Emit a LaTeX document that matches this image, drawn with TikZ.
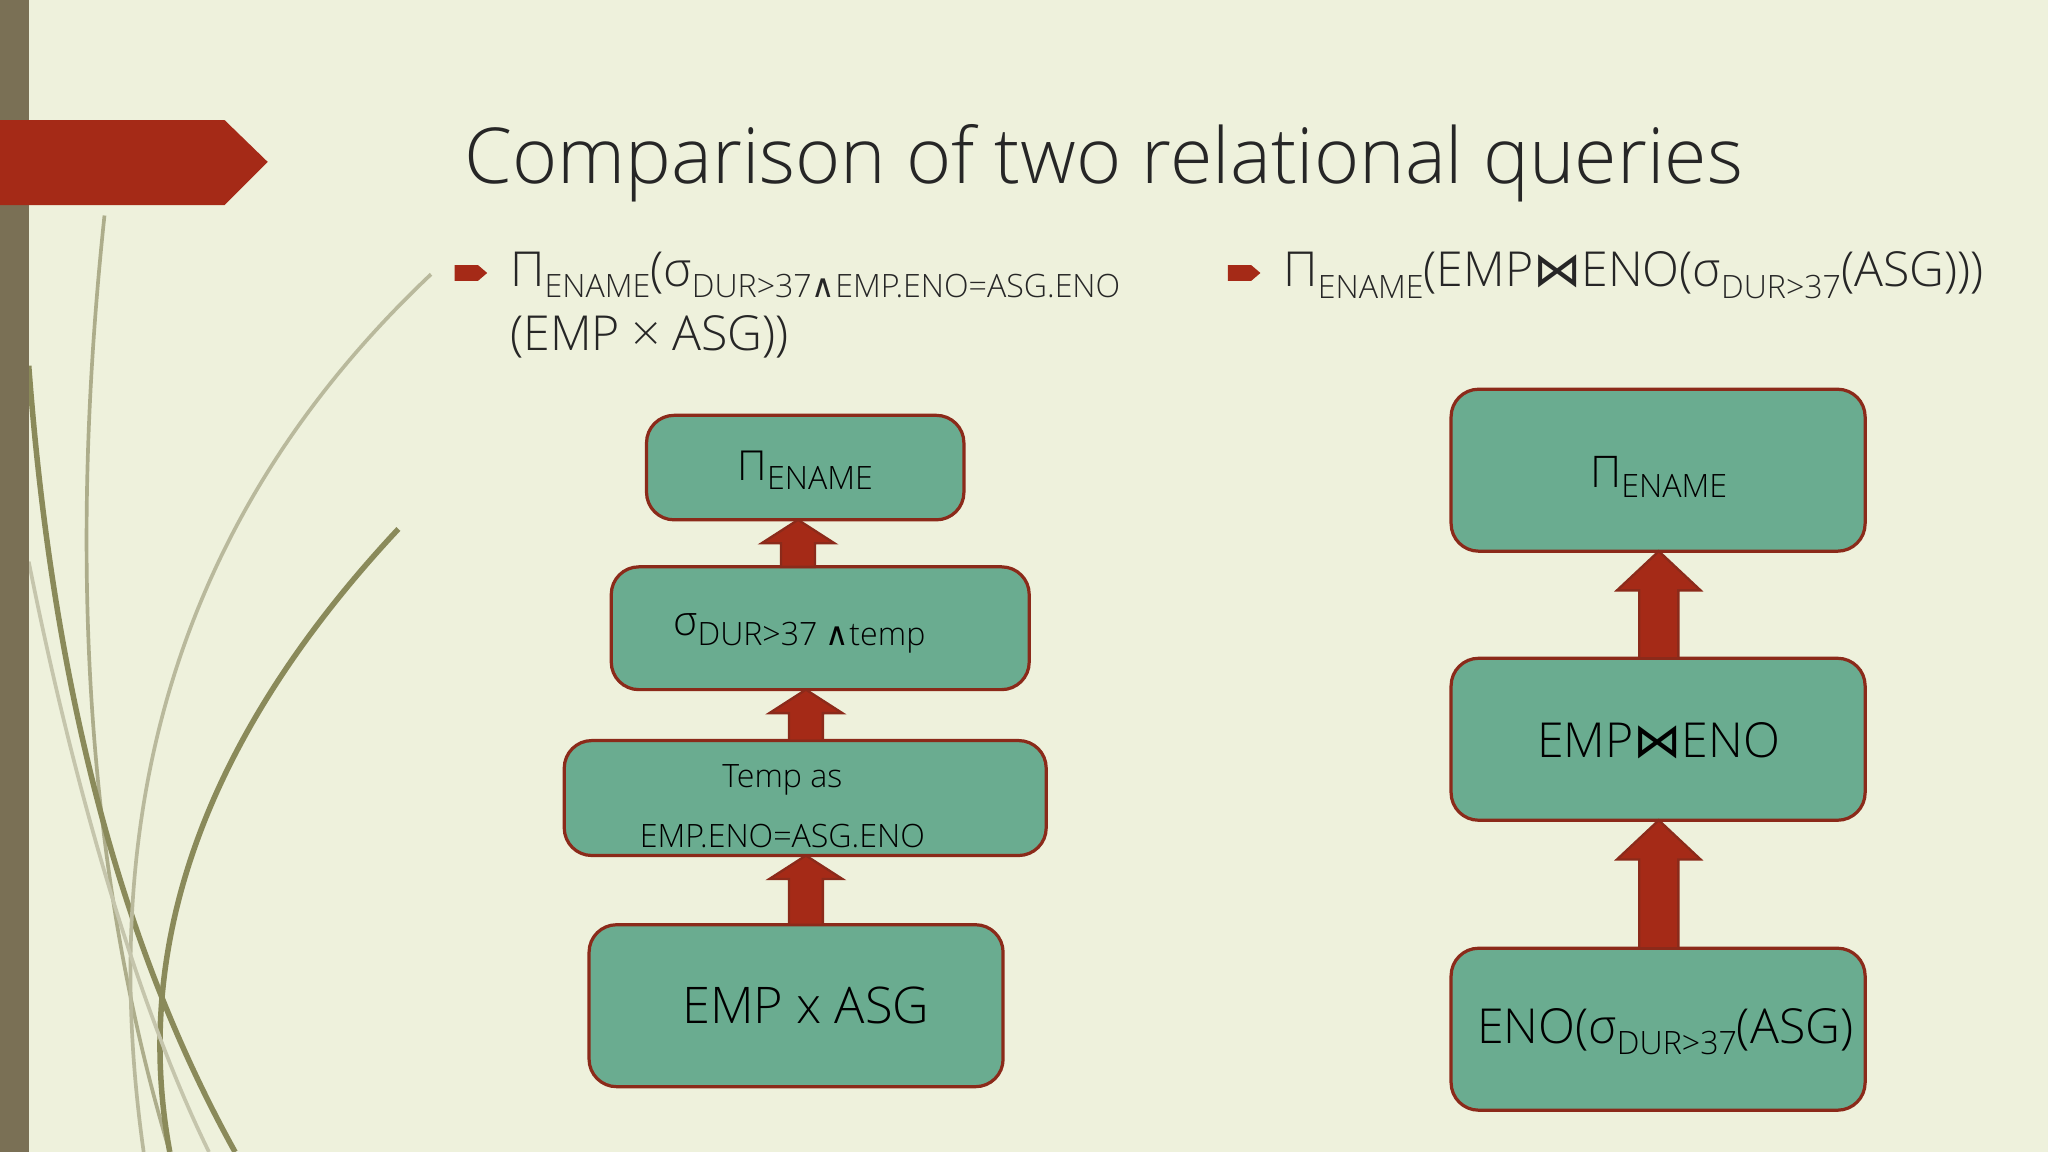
\documentclass[tikz,border=0pt]{standalone}
\usepackage{fontspec}
\setmainfont{Open Sans}[UprightFont=* Light]
\newfontfamily\symf{DejaVu Sans}
\usetikzlibrary{calc}
\definecolor{bg}{HTML}{EEF1DC}
\definecolor{boxc}{HTML}{6AAC90}
\definecolor{edgec}{HTML}{8B2A1A}
\definecolor{redc}{HTML}{A52A17}
\definecolor{barc}{HTML}{7A7055}
\definecolor{leafc}{HTML}{8A8A5A}
\newcommand{\fs}[1]{\fontsize{#1}{#1}\selectfont}
\newcommand{\bt}{{\symf ⋈}}
\newcommand{\wedg}{{\symf ∧}}
\newcommand{\sbs}[1]{\raisebox{-0.45ex}{\fs{7pt}#1}}
\tikzset{x=0.01cm,y=-0.01cm,
 qbox/.style={draw=edgec,line width=0.7pt,fill=boxc,rounded corners=6pt},
 barrow/.style={fill=redc,draw=edgec,line width=0.5pt}}
\begin{document}
\begin{tikzpicture}
\fill[bg] (0,0) rectangle (1568,882);
\useasboundingbox (0,0) rectangle (1568,882);
% decorative leaves
\draw[leafc!70,line width=0.8pt] (80,165) .. controls (55,400) and (60,650) .. (130,882);
\draw[leafc,line width=1.2pt] (22,280) .. controls (40,520) and (90,720) .. (180,882);
\draw[leafc!60,line width=0.8pt] (330,210) .. controls (150,380) and (70,600) .. (110,882);
\draw[leafc,line width=1.2pt] (305,405) .. controls (160,560) and (100,720) .. (130,882);
\draw[leafc!50,line width=0.8pt] (22,430) .. controls (60,620) and (110,780) .. (160,882);
\fill[barc] (0,0) rectangle (22,882);
\fill[redc] (0,92) -- (172,92) -- (205,124) -- (172,157) -- (0,157) -- cycle;
\node[anchor=west,text=black!85] (title) at (343,125) {\fs{16.8pt}Comparison of two relational queries};
% bullets
\fill[redc] (348,203) -- (366,203) -- (373,209) -- (366,215) -- (348,215) -- cycle;
\fill[redc] (940,203) -- (958,203) -- (965,209) -- (958,215) -- (940,215) -- cycle;
\node[anchor=north west,align=left,text=black!85,inner sep=0pt] (b1) at (390,192) {\fs{10.5pt}Π\sbs{ENAME}(σ\sbs{DUR>37\wedg EMP.ENO=ASG.ENO}\\[2pt]\fs{10.5pt}(EMP × ASG))};
\node[anchor=north west,text=black!85,inner sep=0pt] (b2) at (982,192) {\fs{10.5pt}Π\sbs{ENAME}(EMP\bt ENO(σ\sbs{DUR>37}(ASG)))};
% left boxes
\path[qbox] (495,318) rectangle (738,398);
\node (lp) at (616.5,360) {\fs{9pt}Π\sbs{ENAME}};
\path[qbox] (468,434) rectangle (788,528);
\node (ls) at (612,485) {\fs{9pt}σ\sbs{DUR>37 \wedg temp}};
\path[qbox] (432,567) rectangle (801,655);
\node[align=center] (lt) at (599,617) {\fs{7pt}Temp as\\[1pt]\fs{7pt}EMP.ENO=ASG.ENO};
\path[qbox] (451,708) rectangle (768,832);
\node (le) at (617,770) {\fs{11pt}EMP x ASG};
\coordinate (a1t) at (611,398); \coordinate (a1b) at (611,434);
\coordinate (a2t) at (617,528); \coordinate (a2b) at (617,567);
\coordinate (a3t) at (617,655); \coordinate (a3b) at (617,708);
\foreach \t/\b in {a1t/a1b,a2t/a2b,a3t/a3b}{
 \draw[barrow] ($(\b)+(-13,0)$) -- ($(\t)+(-13,18)$) -- ($(\t)+(-28,18)$) -- (\t) -- ($(\t)+(28,18)$) -- ($(\t)+(13,18)$) -- ($(\b)+(13,0)$) -- cycle;}
% right boxes
\path[qbox] (1111,298) rectangle (1428,422);
\node (rp) at (1270,365) {\fs{9.5pt}Π\sbs{ENAME}};
\path[qbox] (1111,504) rectangle (1428,628);
\node (rj) at (1270,567) {\fs{10.5pt}EMP\bt ENO};
\path[qbox] (1111,726) rectangle (1428,850);
\node (re) at (1275,790) {\fs{10.5pt}ENO(σ\sbs{DUR>37}(ASG)};
\coordinate (b1t) at (1270,422); \coordinate (b1b) at (1270,504);
\coordinate (b2t) at (1270,628); \coordinate (b2b) at (1270,726);
\foreach \t/\b in {b1t/b1b,b2t/b2b}{
 \draw[barrow] ($(\b)+(-15,0)$) -- ($(\t)+(-15,30)$) -- ($(\t)+(-32,30)$) -- (\t) -- ($(\t)+(32,30)$) -- ($(\t)+(15,30)$) -- ($(\b)+(15,0)$) -- cycle;}
\end{tikzpicture}
\end{document}
